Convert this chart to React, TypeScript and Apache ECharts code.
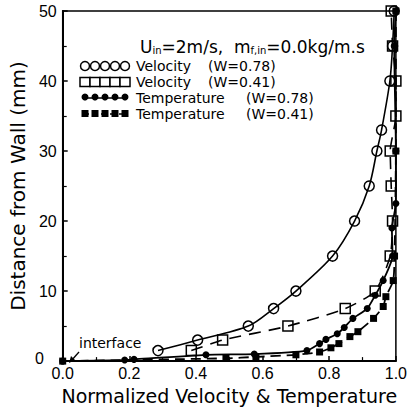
import React, { useEffect, useRef } from "react";
import * as echarts from "echarts";

// Velocity, W = 0.78 (open circles, solid line)
const velW78X = [0.286, 0.405, 0.557, 0.633, 0.70, 0.81, 0.876, 0.92, 0.943, 0.957, 0.982, 0.99, 0.995];
const velW78Y = [1.5, 3, 5, 7.5, 10, 15, 20, 25, 30, 33, 40, 45, 50];
// Velocity, W = 0.41 (open squares, dashed line)
const velW41X = [0.386, 0.48, 0.676, 0.848, 0.938, 0.983, 0.99, 0.986, 0.983, 1.0, 1.0, 0.99, 0.986];
const velW41Y = [1.5, 3, 5, 7.5, 10, 15, 20, 25, 30, 35, 40, 45, 50];
// Temperature, W = 0.78 (filled circles, solid line)
const tempW78X = [0, 0.186, 0.214, 0.43, 0.575, 0.733, 0.771, 0.79, 0.824, 0.845, 0.871, 0.914, 0.938, 0.962, 0.99, 0.988, 1.0, 1.0, 0.995, 1.0];
const tempW78Y = [0, 0.15, 0.25, 0.9, 1.0, 1.5, 2.5, 3.1, 3.9, 4.8, 6.1, 7.5, 9.4, 11.5, 15, 19, 22.5, 30, 45, 50];
// Temperature, W = 0.41 (filled squares, dashed line)
const tempW41X = [0, 0.49, 0.58, 0.70, 0.771, 0.805, 0.829, 0.862, 0.886, 0.933, 0.962, 0.97, 0.992, 0.996, 1.0, 1.0];
const tempW41Y = [0, 0.4, 0.6, 0.9, 1.3, 1.9, 2.5, 3.5, 4.2, 6.1, 7.8, 9.2, 11.5, 15, 30, 50];

const xTicks = [0, 0.2, 0.4, 0.6, 0.8, 1.0];
const yTicks = [0, 10, 20, 30, 40, 50];

const legendLabels = ["Velocity", "Velocity", "Temperature", "Temperature"];
const legendW = ["(W=0.78)", "(W=0.41)", "(W=0.78)", "(W=0.41)"];

const FONT = "DejaVu Sans";
const NUMFONT = "Liberation Sans";

function pairs(xs: number[], ys: number[]) {
  return xs.map((x, i) => [x, ys[i]]);
}

export default function App() {
  const ref = useRef<HTMLDivElement>(null);
  useEffect(() => {
    if (!ref.current) return;
    const chart = echarts.init(ref.current, undefined, { renderer: "svg" });

    const rowYs = [66, 82, 98, 114];
    const symXs = [85, 95, 105, 115, 125];
    const legendGraphics: any[] = [];
    rowYs.forEach((ry, r) => {
      legendGraphics.push({
        type: "line",
        shape: { x1: 83, y1: ry, x2: 128, y2: ry },
        style: { stroke: "#000", lineWidth: 1.5, lineDash: r % 2 === 1 ? [6, 3] : null },
      });
      symXs.forEach((sx) => {
        if (r === 0) {
          legendGraphics.push({ type: "circle", shape: { cx: sx, cy: ry, r: 4.5 }, style: { fill: "#fff", stroke: "#000", lineWidth: 1.5 } });
        } else if (r === 1) {
          legendGraphics.push({ type: "rect", shape: { x: sx - 5, y: ry - 4.5, width: 10, height: 9 }, style: { fill: "#fff", stroke: "#000", lineWidth: 1.5 } });
        } else if (r === 2) {
          legendGraphics.push({ type: "circle", shape: { cx: sx, cy: ry - 1, r: 3.5 }, style: { fill: "#000" } });
        } else {
          legendGraphics.push({ type: "rect", shape: { x: sx - 3.5, y: ry - 4, width: 7, height: 7 }, style: { fill: "#000" } });
        }
      });
      legendGraphics.push({
        type: "text",
        x: 136,
        y: ry,
        style: { text: legendLabels[r], font: `14px '${FONT}'`, fill: "#000", textVerticalAlign: "middle" },
      });
      legendGraphics.push({
        type: "text",
        x: r < 2 ? 208 : 246,
        y: ry,
        style: { text: legendW[r], font: `14px '${FONT}'`, fill: "#000", textVerticalAlign: "middle" },
      });
    });

    const option: any = {
      animation: false,
      backgroundColor: "#fff",
      grid: { left: 50, right: 10, top: 11, bottom: 45, show: true, borderColor: "#000", borderWidth: 1.5, backgroundColor: "transparent" },
      xAxis: {
        type: "value",
        min: xTicks[0],
        max: xTicks[xTicks.length - 1],
        interval: 0.2,
        name: "Normalized Velocity & Temperature",
        nameLocation: "middle",
        nameGap: 24,
        nameTextStyle: { fontFamily: FONT, fontSize: 19, color: "#000" },
        axisLine: { lineStyle: { color: "#000", width: 2 } },
        axisTick: { inside: true, length: 5, lineStyle: { color: "#000", width: 1.5 } },
        minorTick: { show: true, splitNumber: 2, length: 4, lineStyle: { color: "#000", width: 1.2 } },
        splitLine: { show: false },
        axisLabel: { fontFamily: NUMFONT, fontSize: 16, color: "#000", margin: 4, formatter: (v: number) => v.toFixed(1) },
      },
      yAxis: {
        type: "value",
        min: yTicks[0],
        max: yTicks[yTicks.length - 1],
        interval: 10,
        name: "Distance from Wall (mm)",
        nameLocation: "middle",
        nameGap: 26,
        nameRotate: 90,
        nameTextStyle: { fontFamily: FONT, fontSize: 20, color: "#000" },
        axisLine: { lineStyle: { color: "#000", width: 2 } },
        axisTick: { inside: true, length: 5, lineStyle: { color: "#000", width: 1.5 } },
        minorTick: { show: true, splitNumber: 2, length: 4, lineStyle: { color: "#000", width: 1.2 } },
        splitLine: { show: false },
        axisLabel: { fontFamily: NUMFONT, fontSize: 16, color: "#000", margin: 6, showMinLabel: false },
      },
      graphic: [
        {
          type: "text",
          x: 44,
          y: 358,
          style: { text: String(yTicks[0]), font: `16px '${NUMFONT}'`, fill: "#000", textAlign: "right", textVerticalAlign: "middle" },
        },
        {
          type: "text",
          x: 140,
          y: 47,
          style: {
            text: "{n|U}{s|in}{n|=2m/s,  m}{s|f,in}{n|=0.0kg/m.s}",
            rich: {
              n: { fontFamily: FONT, fontSize: 17, fill: "#000", color: "#000" },
              s: { fontFamily: FONT, fontSize: 10, fill: "#000", color: "#000", verticalAlign: "bottom", padding: [6, 0, 0, 0] },
            },
            textVerticalAlign: "middle",
          },
        },
        ...legendGraphics,
        {
          type: "text",
          x: 79,
          y: 343,
          style: { text: "interface", font: `14px '${FONT}'`, fill: "#000", textVerticalAlign: "middle" },
        },
        {
          type: "line",
          shape: { x1: 79, y1: 352, x2: 71, y2: 361 },
          style: { stroke: "#000", lineWidth: 1.3 },
        },
        {
          type: "polygon",
          shape: { points: [[69, 363], [71, 356], [75, 360]] },
          style: { fill: "#000" },
        },
      ],
      series: [
        {
          type: "line",
          data: pairs(tempW41X, tempW41Y),
          smooth: 0.2,
          symbol: "rect",
          symbolSize: 7,
          itemStyle: { color: "#000" },
          lineStyle: { color: "#000", width: 1.8, type: [10, 6] },
          z: 2,
        },
        {
          type: "line",
          data: pairs(tempW78X, tempW78Y),
          smooth: 0.2,
          symbol: "circle",
          symbolSize: 7,
          itemStyle: { color: "#000" },
          lineStyle: { color: "#000", width: 1.8 },
          z: 3,
        },
        {
          type: "line",
          data: pairs(velW41X, velW41Y),
          smooth: 0.2,
          symbol: "rect",
          symbolSize: 10,
          itemStyle: { color: "rgba(0,0,0,0)", borderColor: "#000", borderWidth: 1.5 },
          lineStyle: { color: "#000", width: 1.6, type: [12, 8] },
          z: 4,
        },
        {
          type: "line",
          data: pairs(velW78X, velW78Y),
          smooth: 0.3,
          symbol: "circle",
          symbolSize: 10,
          itemStyle: { color: "rgba(0,0,0,0)", borderColor: "#000", borderWidth: 1.5 },
          lineStyle: { color: "#000", width: 1.6 },
          z: 5,
        },
      ],
    };
    chart.setOption(option);
    return () => chart.dispose();
  }, []);
  return <div ref={ref} style={{ position: "absolute", left: 0, top: 0, width: 410, height: 410 }} />;
}
